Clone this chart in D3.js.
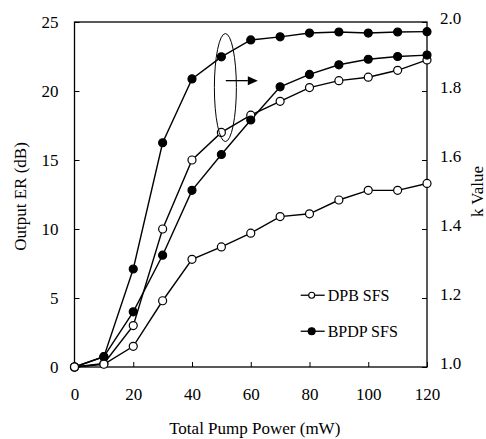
<!DOCTYPE html>
<html>
<head>
<meta charset="utf-8">
<script src="https://cdn.jsdelivr.net/npm/d3@7"></script>
<style>
  body { margin: 0; background: #fff; }
  text { font-family: "Liberation Serif", "Times New Roman", serif; fill: #000; }
</style>
</head>
<body>
<div id="chart"></div>
<script>
// chart size
var width = 486;
var height = 439;
var margin = { top: 22, right: 59, bottom: 72, left: 74.5 };

// data
var power = [0, 10, 20, 30, 40, 50, 60, 70, 80, 90, 100, 110, 120];
var xTicks = [0, 20, 40, 60, 80, 100, 120];
var erTicks = [0, 5, 10, 15, 20, 25];
var kTicks = [1.0, 1.2, 1.4, 1.6, 1.8, 2.0];

// Output ER (left axis)
var dpbER = [0, 0.2, 1.5, 4.8, 7.8, 8.7, 9.7, 10.9, 11.1, 12.1, 12.8, 12.8, 13.3];
var bpdpER = [0, 0.75, 4.0, 8.1, 12.8, 15.4, 17.9, 20.3, 21.2, 21.9, 22.3, 22.5, 22.6];
// k value (right axis)
var dpbK = [1.0, 1.01, 1.12, 1.40, 1.60, 1.68, 1.73, 1.77, 1.81, 1.83, 1.84, 1.86, 1.89];
var bpdpK = [1.0, 1.03, 1.284, 1.65, 1.835, 1.899, 1.948, 1.957, 1.968, 1.971, 1.968, 1.971, 1.972];

var legendNames = ["DPB SFS", "BPDP SFS"];

var w = width - margin.left - margin.right;
var h = height - margin.top - margin.bottom;

var svg = d3.select("#chart")
    .append("svg")
    .attr("width", width)
    .attr("height", height)
    .append("g")
    .attr("transform", "translate(" + margin.left + "," + margin.top + ")");

var x = d3.scaleLinear().domain([0, 120]).range([0, w]);
var yER = d3.scaleLinear().domain([0, 25]).range([h, 0]);
var yK = d3.scaleLinear().domain([1.0, 2.0]).range([h, 0]);

// frame
svg.append("rect")
    .attr("x", 0).attr("y", 0)
    .attr("width", w).attr("height", h)
    .attr("fill", "none")
    .attr("stroke", "#000")
    .attr("stroke-width", 1.3);

// axes, ticks pointing inwards
var xAxis = svg.append("g")
    .attr("transform", "translate(0," + h + ")")
    .call(d3.axisBottom(x).tickValues(xTicks).tickSize(-5).tickPadding(21).tickFormat(d3.format("d")));
var leftAxis = svg.append("g")
    .call(d3.axisLeft(yER).tickValues(erTicks).tickSize(-5).tickPadding(16).tickFormat(d3.format("d")));
var rightAxis = svg.append("g")
    .attr("transform", "translate(" + w + ",0)")
    .call(d3.axisRight(yK).tickValues(kTicks).tickSize(-5).tickPadding(13).tickFormat(d3.format(".1f")));

[xAxis, leftAxis, rightAxis].forEach(function(a) {
    a.select(".domain").remove();
    a.selectAll(".tick line").attr("stroke", "#000").attr("stroke-width", 1);
    a.selectAll(".tick text").style("font-size", "17px").style("font-family", "Liberation Serif, serif");
});
rightAxis.selectAll(".tick text").attr("dy", "0.1em");

// axis titles
svg.append("text")
    .attr("x", w / 2 + 4)
    .attr("y", h + 67)
    .attr("text-anchor", "middle")
    .style("font-size", "17px")
    .text("Total Pump Power (mW)");

svg.append("text")
    .attr("transform", "translate(" + (-49) + "," + (h / 2 + 2) + ") rotate(-90)")
    .attr("text-anchor", "middle")
    .style("font-size", "17px")
    .text("Output ER (dB)");

svg.append("text")
    .attr("transform", "translate(" + (w + 56) + "," + (h / 2 - 3) + ") rotate(-90)")
    .attr("text-anchor", "middle")
    .style("font-size", "17px")
    .text("k Value");

// series
var series = [
    { vals: dpbK, y: yK, filled: false },
    { vals: bpdpK, y: yK, filled: true },
    { vals: bpdpER, y: yER, filled: true },
    { vals: dpbER, y: yER, filled: false }
];

series.forEach(function(s) {
    var line = d3.line()
        .x(function(d, i) { return x(power[i]); })
        .y(function(d) { return s.y(d); });
    svg.append("path")
        .datum(s.vals)
        .attr("d", line)
        .attr("fill", "none")
        .attr("stroke", "#000")
        .attr("stroke-width", 1.4);
});

series.forEach(function(s) {
    svg.selectAll(null)
        .data(s.vals)
        .enter()
        .append("circle")
        .attr("cx", function(d, i) { return x(power[i]); })
        .attr("cy", function(d) { return s.y(d); })
        .attr("r", 4)
        .attr("fill", s.filled ? "#000" : "#fff")
        .attr("stroke", "#000")
        .attr("stroke-width", 1.2);
});

// ellipse + arrow marking the k-value curves
svg.append("ellipse")
    .attr("cx", x(50) + 4)
    .attr("cy", yK(1.81))
    .attr("rx", 11)
    .attr("ry", 54)
    .attr("fill", "none")
    .attr("stroke", "#000")
    .attr("stroke-width", 1);

svg.append("line")
    .attr("x1", x(51.5)).attr("x2", x(59))
    .attr("y1", yK(1.83)).attr("y2", yK(1.83))
    .attr("stroke", "#000")
    .attr("stroke-width", 1.3);
svg.append("path")
    .attr("d", "M" + x(59) + "," + (yK(1.83) - 4.5) + "L" + (x(59) + 10) + "," + yK(1.83) + "L" + x(59) + "," + (yK(1.83) + 4.5) + "Z")
    .attr("fill", "#000");

// legend
var legend = svg.append("g")
    .attr("transform", "translate(" + (x(77) ) + "," + yER(5.2) + ")");
legendNames.forEach(function(name, i) {
    var g = legend.append("g").attr("transform", "translate(0," + (i * 36) + ")");
    g.append("line")
        .attr("x1", 0).attr("x2", 24)
        .attr("stroke", "#000").attr("stroke-width", 1.3);
    g.append("circle")
        .attr("cx", 11).attr("r", i === 0 ? 3 : 3.5)
        .attr("fill", i === 0 ? "#fff" : "#000")
        .attr("stroke", "#000").attr("stroke-width", 1.1);
    g.append("text")
        .attr("x", 27).attr("y", 6)
        .style("font-size", "16px")
        .text(name);
});
</script>
</body>
</html>
